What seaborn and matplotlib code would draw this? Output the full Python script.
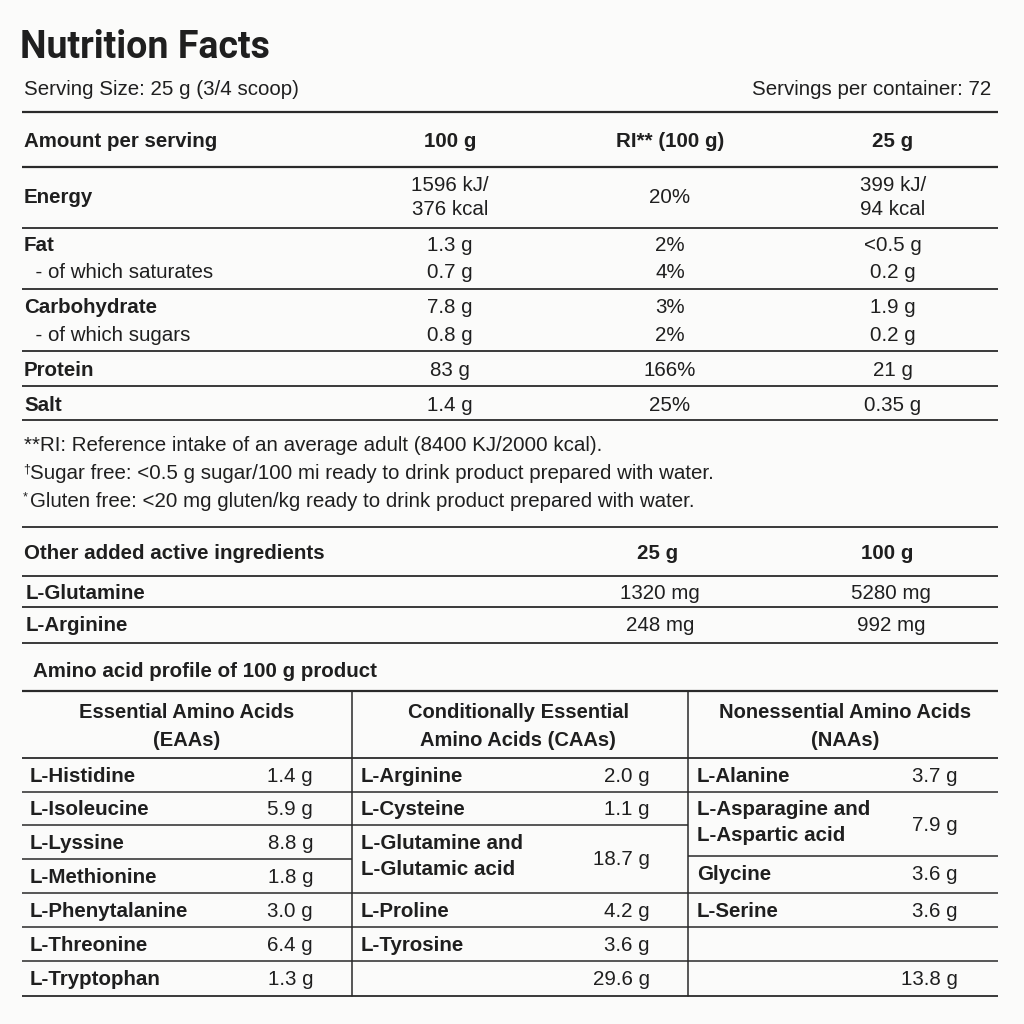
import numpy as np
import pandas as pd
import matplotlib
matplotlib.use("Agg")
import matplotlib.pyplot as plt
import seaborn as sns

# ---- data ----
title = "Nutrition Facts"
serving_size = "Serving Size: 25 g (3/4 scoop)"
servings_per = "Servings per container: 72"

head_cols = ["Amount per serving", "100 g", "RI** (100 g)", "25 g"]
nut_names = ["Energy", "Fat", "  - of which saturates", "Carbohydrate", "  - of which sugars", "Protein", "Salt"]
nut_bold = [True, True, False, True, False, True, True]
nut_100g = ["1596 kJ/\n376 kcal", "1.3 g", "0.7 g", "7.8 g", "0.8 g", "83 g", "1.4 g"]
nut_ri = ["20%", "2%", "4%", "3%", "2%", "166%", "25%"]
nut_25g = ["399 kJ/\n94 kcal", "<0.5 g", "0.2 g", "1.9 g", "0.2 g", "21 g", "0.35 g"]

footnotes = ["**RI: Reference intake of an average adult (8400 KJ/2000 kcal).",
             "Sugar free: <0.5 g sugar/100 mi ready to drink product prepared with water.",
             "Gluten free: <20 mg gluten/kg ready to drink product prepared with water."]
foot_marks = ["", "†", "*"]

other_head = ["Other added active ingredients", "25 g", "100 g"]
other_names = ["L-Glutamine", "L-Arginine"]
other_25g = ["1320 mg", "248 mg"]
other_100g = ["5280 mg", "992 mg"]

amino_title = "Amino acid profile of 100 g product"
amino_heads = ["Essential Amino Acids\n(EAAs)", "Conditionally Essential\nAmino Acids (CAAs)",
               "Nonessential Amino Acids\n(NAAs)"]
eaa_names = ["L-Histidine", "L-Isoleucine", "L-Lyssine", "L-Methionine", "L-Phenytalanine",
             "L-Threonine", "L-Tryptophan"]
eaa_vals = ["1.4 g", "5.9 g", "8.8 g", "1.8 g", "3.0 g", "6.4 g", "1.3 g"]
caa_names = ["L-Arginine", "L-Cysteine", "L-Glutamine and\nL-Glutamic acid", "L-Proline", "L-Tyrosine", ""]
caa_vals = ["2.0 g", "1.1 g", "18.7 g", "4.2 g", "3.6 g", "29.6 g"]
naa_names = ["L-Alanine", "L-Asparagine and\nL-Aspartic acid", "Glycine", "L-Serine", "", ""]
naa_vals = ["3.7 g", "7.9 g", "3.6 g", "3.6 g", "", "13.8 g"]

# ---- layout (pixel units, y downwards) ----
sns.set_theme(style="white")
plt.rcParams["font.family"] = ["Liberation Sans", "DejaVu Sans"]
INK = "#1f1f1f"
LINE = "#2a2a2a"
FS = 14.8
DY = 2.5  # va='center' sits a little high compared with the reference

fig = plt.figure(figsize=(10.24, 10.24), dpi=100, facecolor="#fbfbfa")
ax = fig.add_axes([0, 0, 1, 1])
ax.set_xlim(0, 1024)
ax.set_ylim(1024, 0)
ax.axis("off")
ax.set_facecolor("#fbfbfa")

L, R = 22, 998


def txt(x, y, s, size=FS, bold=False, ha="left", family=None, ls=1.36):
    kw = dict(fontsize=size, fontweight="bold" if bold else "normal", ha=ha, va="center",
              color=INK, linespacing=ls, multialignment=ha if ha != "right" else "left")
    if family:
        kw["family"] = family
    ax.text(x, y + DY, s, **kw)


def hline(y, x0=L, x1=R, lw=1.3):
    ax.plot([x0, x1], [y, y], color=LINE, lw=lw, solid_capstyle="butt")


# title & serving info
txt(20, 45, title, size=27, bold=True, family=["Liberation Sans Narrow", "Roboto", "DejaVu Sans"])
txt(24, 87, serving_size)
txt(991, 87, servings_per, ha="right")

# main table
col_x = [450, 670, 893]
hline(112, lw=1.6)
txt(24, 139, head_cols[0], bold=True)
for cx, h in zip(col_x, head_cols[1:]):
    txt(cx, 139, h, bold=True, ha="center")
hline(167, lw=1.6)

row_y = [195, 243, 270, 305, 333, 368, 403]
for y, n, b, a, r, c in zip(row_y, nut_names, nut_bold, nut_100g, nut_ri, nut_25g):
    txt(24, y, n, bold=b)
    for cx, v in zip(col_x, [a, r, c]):
        txt(cx, y, v, ha="center")
for y in [228, 289, 351, 386, 420]:
    hline(y)

# footnotes
for y, m, f in zip([443, 471, 499], foot_marks, footnotes):
    if m:
        txt(23, y - 4, m, size=9)
        txt(30, y, f)
    else:
        txt(24, y, f)

# other ingredients
hline(527)
txt(24, 551, other_head[0], bold=True)
txt(658, 551, other_head[1], bold=True, ha="center")
txt(887, 551, other_head[2], bold=True, ha="center")
hline(576)
for y, n, a, b in zip([591, 623], other_names, other_25g, other_100g):
    txt(26, y, n, bold=True)
    txt(660, y, a, ha="center")
    txt(891, y, b, ha="center")
hline(607)
hline(643)

# amino acid profile
txt(33, 669, amino_title, bold=True)
V1, V2 = 352, 688
hline(691, lw=1.6)
for cx, h in zip([187, 518, 845], amino_heads):
    txt(cx, 724, h, size=14.5, bold=True, ha="center", ls=1.6)
hline(758)
hline(996)
for vx in [V1, V2]:
    ax.plot([vx, vx], [691, 996], color=LINE, lw=1.1)

# EAA column
eaa_y = [774, 807, 841, 875, 909, 943, 977]
for y, n, v in zip(eaa_y, eaa_names, eaa_vals):
    txt(30, y, n, bold=True)
    txt(313, y, v, ha="right")
for y in [792, 825, 859, 893, 927, 961]:
    hline(y, L, V1, lw=1.1)

# CAA column
caa_y = [774, 807, 854, 909, 943, 977]
for y, n, v in zip(caa_y, caa_names, caa_vals):
    if n:
        txt(361, y, n, bold=True, ls=1.5)
    txt(650, y + (3 if "\n" in n else 0), v, ha="right")
for y in [792, 825, 893, 927, 961]:
    hline(y, V1, V2, lw=1.1)

# NAA column
naa_y = [774, 820, 872, 909, 943, 977]
for y, n, v in zip(naa_y, naa_names, naa_vals):
    if n:
        txt(697, y, n, bold=True, ls=1.5)
    if v:
        txt(958, y + (3 if "\n" in n else 0), v, ha="right")
for y in [792, 856, 893, 927, 961]:
    hline(y, V2, R, lw=1.1)

fig.savefig("out.png", dpi=100, facecolor=fig.get_facecolor())
